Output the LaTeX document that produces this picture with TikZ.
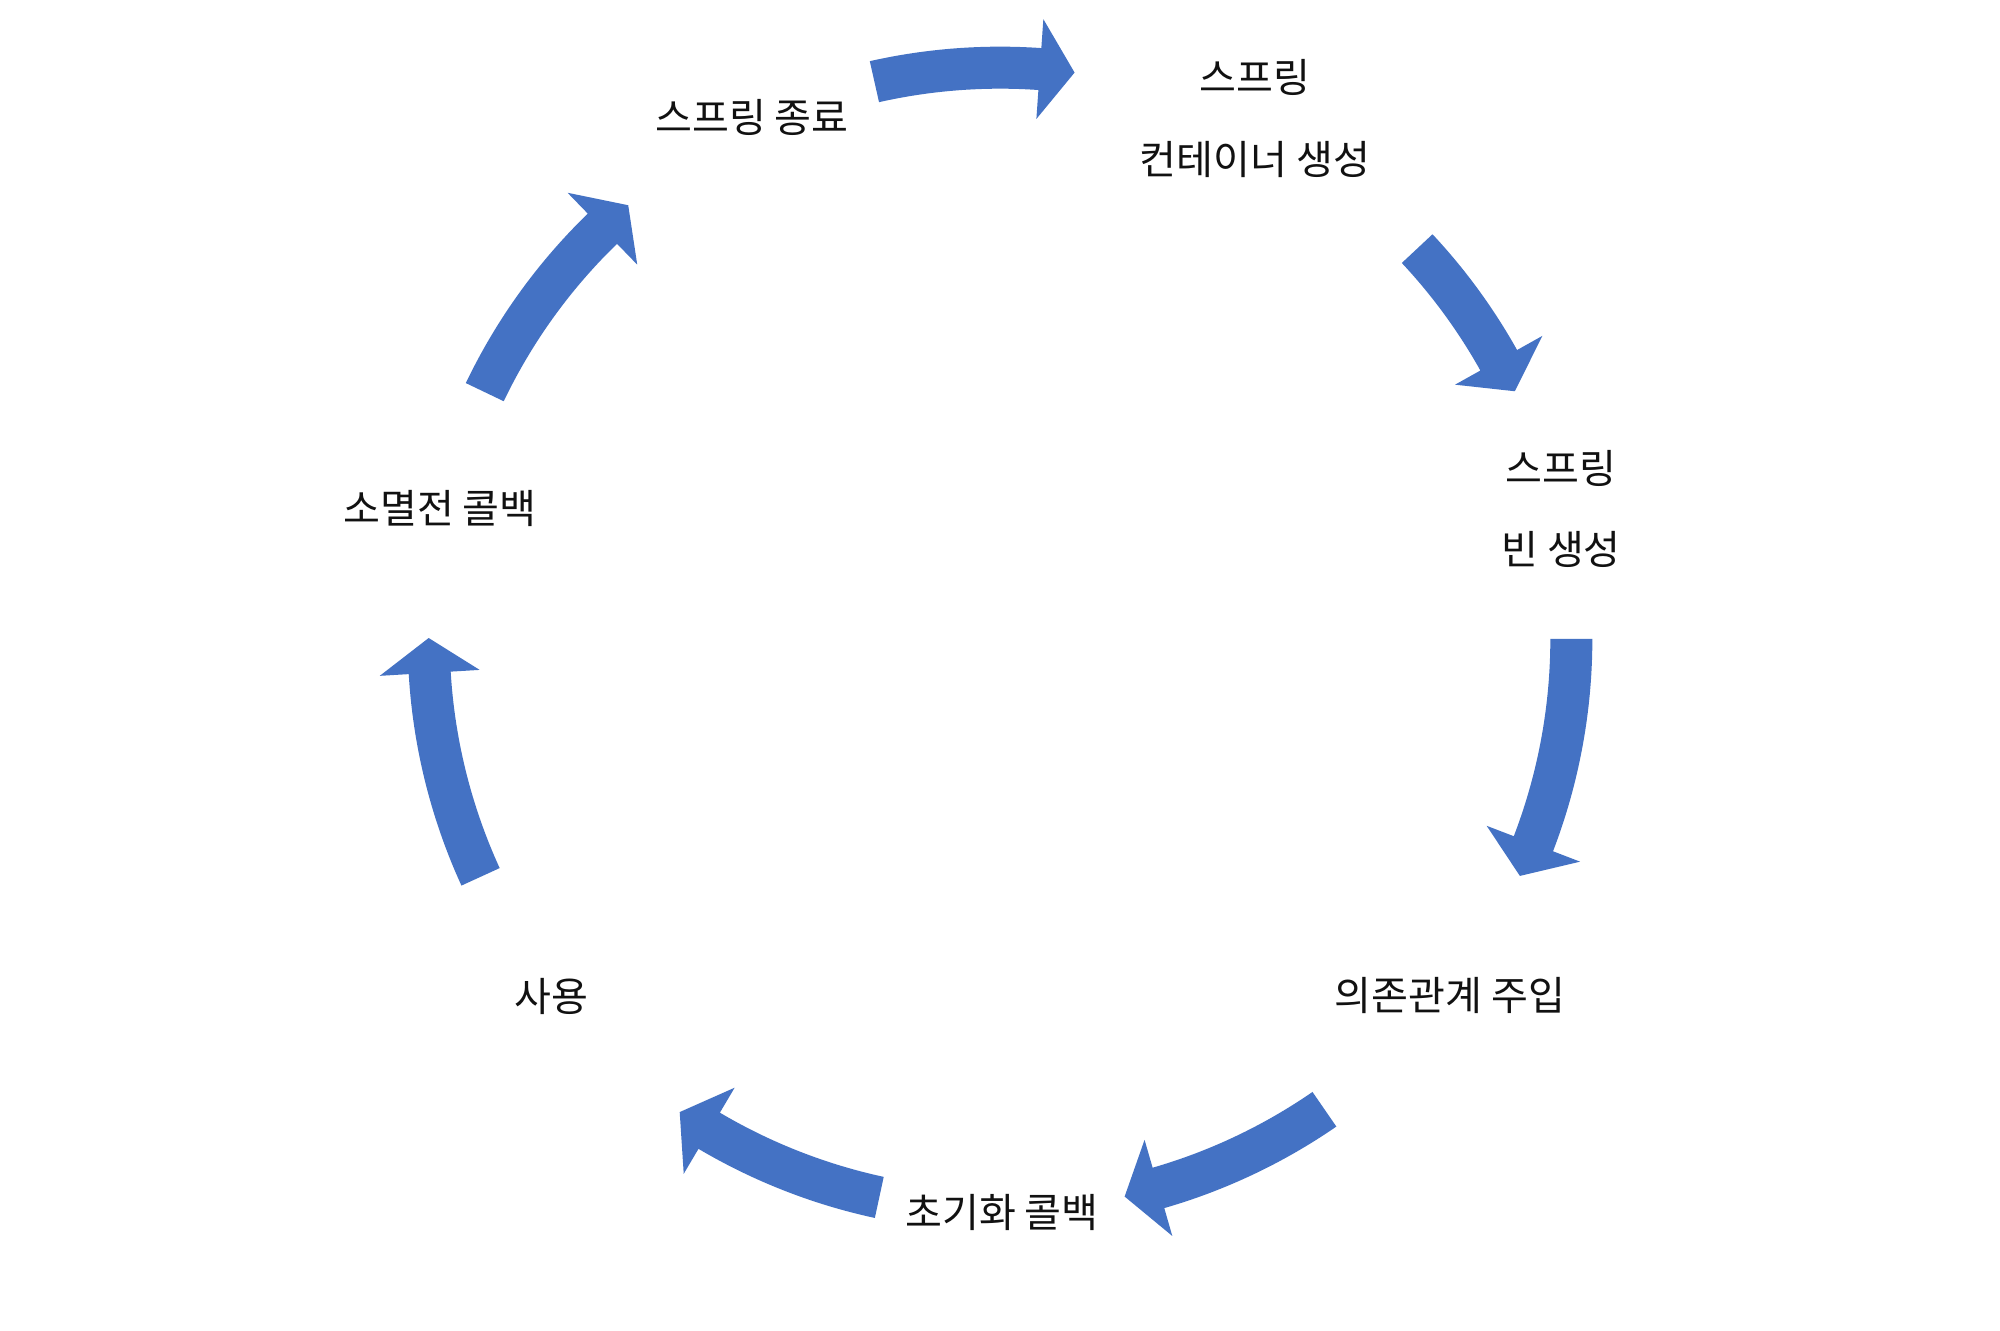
\documentclass[tikz,border=0pt]{standalone}
\usepackage{fontspec}
\newfontfamily\kr{Noto Sans CJK KR}
\definecolor{arrowblue}{HTML}{4472C4}
\definecolor{labeltext}{HTML}{111111}
\newcommand\cycarrow[2]{%
  \fill[arrowblue] (#1:5.50) arc[start angle=#1, end angle=#2, radius=5.50]
    -- (#2:5.21) -- ({#2-3.5}:5.71) -- (#2:6.21) -- (#2:5.92)
    arc[start angle=#2, end angle=#1, radius=5.92] -- cycle;}
\begin{document}
\begin{tikzpicture}[x=0.01cm,y=-0.01cm,
  lbl/.style={font=\kr\fontsize{11.4}{23.3}\selectfont, inner sep=0pt, align=center, text=labeltext}]
\useasboundingbox[fill=white] (0,0) rectangle (2000,1331);
% labels
\node[lbl] (container) at (1255,119) {스프링\\컨테이너 생성};
\node[lbl] (bean) at (1561,509) {스프링\\빈 생성};
\node[lbl] (di) at (1450,996) {의존관계 주입};
\node[lbl] (init) at (1002,1212) {초기화 콜백};
\node[lbl] (use) at (551,996) {사용};
\node[lbl] (destroy) at (440,508) {소멸전 콜백};
\node[lbl] (shutdown) at (752,117) {스프링 종료};
% cycle arrows
\begin{scope}[shift={(1000,639)}, x=1cm, y=1cm]
  \cycarrow{102.7}{86}
  \cycarrow{43.1}{29.2}
  \cycarrow{0}{-21}
  \cycarrow{-55.4}{-73.9}
  \cycarrow{-102.2}{-120.6}
  \cycarrow{-155.4}{-176.6}
  \cycarrow{154.4}{134.1}
\end{scope}
\end{tikzpicture}
\end{document}
